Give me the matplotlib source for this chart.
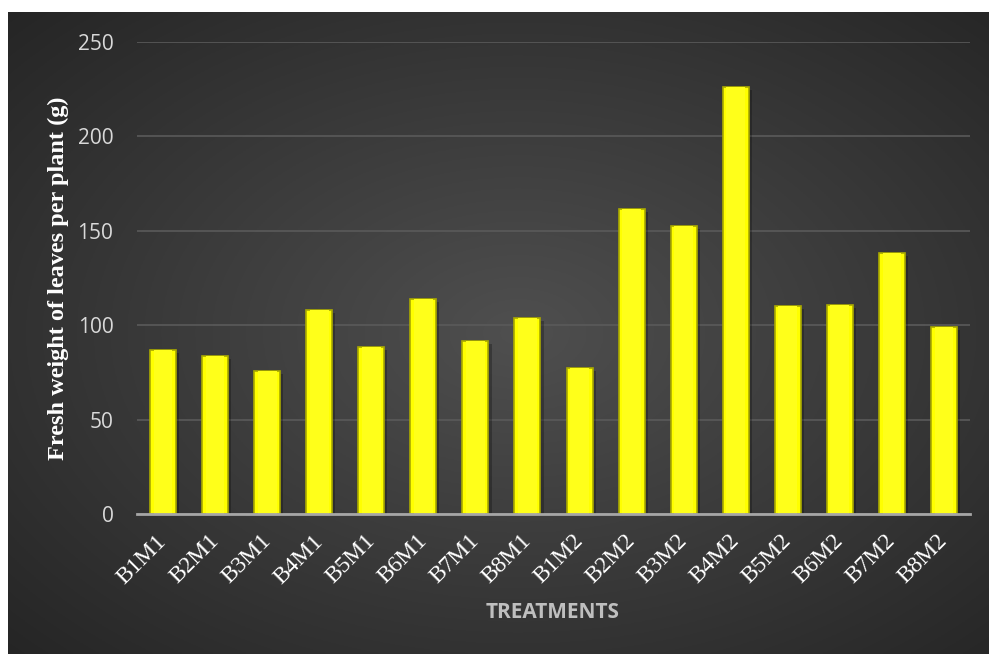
import numpy as np
import matplotlib.pyplot as plt
from matplotlib.transforms import ScaledTranslation

treatments = ["B1M1", "B2M1", "B3M1", "B4M1", "B5M1", "B6M1", "B7M1", "B8M1",
              "B1M2", "B2M2", "B3M2", "B4M2", "B5M2", "B6M2", "B7M2", "B8M2"]
fresh_weight = [86.9, 83.7, 75.7, 108.1, 88.5, 113.9, 91.6, 103.8,
                77.3, 161.5, 152.5, 226.2, 110.2, 110.7, 138.2, 99.0]
y_ticks = [0, 50, 100, 150, 200, 250]

W, H = 989, 654
fig = plt.figure(figsize=(W / 100, H / 100), dpi=100)
fig.patch.set_facecolor("white")

# dark radial background panel
bg = fig.add_axes([8 / W, 0, 1 - 8 / W, 1 - 12 / H])
bg.set_axis_off()
yy, xx = np.mgrid[0:1:300j, 0:1:450j]
r = np.sqrt(((xx - 0.52) / 0.75) ** 2 + ((yy - 0.5) / 0.75) ** 2)
shade = 0.31 - 0.17 * np.clip(r, 0, 1)
img = np.dstack([shade, shade, shade])
bg.imshow(img, aspect="auto", extent=[0, 1, 0, 1], origin="lower")

ax = fig.add_axes([137 / W, 1 - 514 / H, (970 - 137) / W, (514 - 42) / H])
ax.patch.set_alpha(0)
x = np.arange(len(treatments))

# soft shadow then bars
ax.bar(x + 0.06, fresh_weight, width=0.5, bottom=-1.5, color="black", alpha=0.25, zorder=2)
ax.bar(x, fresh_weight, width=0.5, color="#ffff00", edgecolor="#a9a900", linewidth=1.2, zorder=3)
ax.bar(x, fresh_weight, width=0.36, color="#ffff1a", linewidth=0, zorder=4)

ax.set_xlim(-0.5, len(treatments) - 0.5)
ax.set_ylim(0, 250)
ax.set_yticks(y_ticks)
ax.yaxis.grid(True, color="#5a5a5a", linewidth=1.2, zorder=0)
ax.set_axisbelow(True)
for s in ["top", "right", "left"]:
    ax.spines[s].set_visible(False)
ax.spines["bottom"].set_color("#a6a6a6")
ax.spines["bottom"].set_linewidth(2)
ax.spines["bottom"].set_zorder(5)
ax.tick_params(axis="both", length=0)
ax.tick_params(axis="y", pad=17, labelsize=15, labelcolor="#d9d9d9")
for t in ax.get_yticklabels():
    t.set_fontfamily("Open Sans")

ax.set_xticks(x)
ax.set_xticklabels(treatments, rotation=45, ha="right", rotation_mode="anchor",
                   fontfamily="Liberation Serif", fontsize=17, color="white")
ax.tick_params(axis="x", pad=12)
shift = ScaledTranslation(-7 / 100, 0, fig.dpi_scale_trans)
for t in ax.get_xticklabels():
    t.set_transform(t.get_transform() + shift)

ax.set_ylabel("Fresh weight of leaves per plant (g)", fontfamily="Liberation Serif",
              fontweight="bold", fontsize=17.5, color="white", labelpad=6)
fig.text(553 / W, 1 - 613 / H, "TREATMENTS", fontfamily="Open Sans", fontweight="bold",
         fontsize=15, color="#bfbfbf", ha="center", va="center")

fig.savefig("out.png", dpi=100)
